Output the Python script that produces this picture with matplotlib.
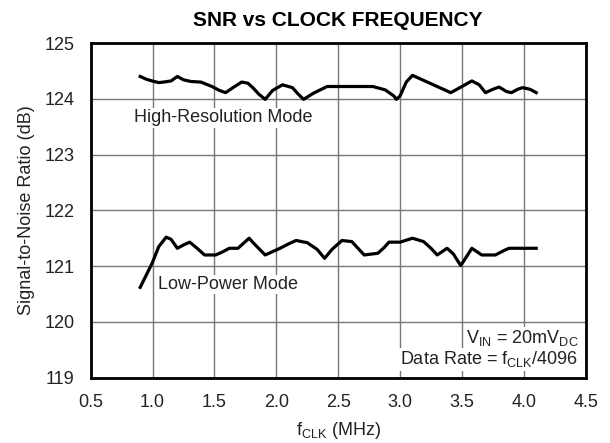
import numpy as np
import matplotlib
matplotlib.use("Agg")
import matplotlib.pyplot as plt

plt.rcParams['font.family'] = ['Liberation Sans', 'DejaVu Sans']
plt.rcParams['mathtext.fontset'] = 'custom'
plt.rcParams['mathtext.rm'] = 'Liberation Sans'
plt.rcParams['mathtext.it'] = 'Liberation Sans'

# High-Resolution Mode
hr_f = [0.90, 0.95, 0.996, 1.05, 1.09, 1.15, 1.20, 1.25, 1.31, 1.39, 1.48, 1.54, 1.59,
        1.65, 1.72, 1.77, 1.81, 1.86, 1.91, 1.97, 2.05, 2.13, 2.17, 2.22, 2.30, 2.41,
        2.78, 2.88, 2.95, 2.97, 3.00, 3.05, 3.10, 3.16, 3.25, 3.41, 3.50, 3.58, 3.64,
        3.69, 3.75, 3.80, 3.86, 3.90, 3.95, 3.99, 4.05, 4.10]
hr_snr = [124.40, 124.35, 124.32, 124.29, 124.30, 124.32, 124.40, 124.34, 124.31, 124.30,
          124.22, 124.15, 124.11, 124.20, 124.30, 124.28, 124.20, 124.08, 123.99, 124.15,
          124.25, 124.20, 124.10, 123.99, 124.10, 124.22, 124.22, 124.16, 124.05, 123.99,
          124.05, 124.30, 124.42, 124.36, 124.27, 124.11, 124.22, 124.32, 124.25, 124.11,
          124.17, 124.21, 124.13, 124.11, 124.17, 124.20, 124.17, 124.11]

# Low-Power Mode
lp_f = [0.90, 0.996, 1.05, 1.11, 1.15, 1.20, 1.25, 1.30, 1.36, 1.42, 1.51, 1.57, 1.62,
        1.69, 1.74, 1.78, 1.83, 1.91, 2.03, 2.10, 2.16, 2.25, 2.33, 2.39, 2.45, 2.53,
        2.61, 2.66, 2.71, 2.82, 2.87, 2.91, 3.00, 3.10, 3.19, 3.25, 3.30, 3.38, 3.43,
        3.49, 3.54, 3.58, 3.66, 3.77, 3.84, 3.88, 4.10]
lp_snr = [120.62, 121.05, 121.35, 121.52, 121.48, 121.32, 121.38, 121.43, 121.32, 121.20,
          121.20, 121.26, 121.32, 121.32, 121.42, 121.50, 121.38, 121.20, 121.32, 121.40,
          121.46, 121.42, 121.30, 121.14, 121.30, 121.46, 121.44, 121.32, 121.20, 121.23,
          121.33, 121.43, 121.43, 121.50, 121.44, 121.32, 121.20, 121.32, 121.22, 121.01,
          121.18, 121.32, 121.20, 121.20, 121.28, 121.32, 121.32]

xticks = [0.5, 1.0, 1.5, 2.0, 2.5, 3.0, 3.5, 4.0, 4.5]
yticks = [119, 120, 121, 122, 123, 124, 125]

fig = plt.figure(figsize=(6.1, 4.43), dpi=100)
ax = fig.add_axes([90.7/610, 1-377.7/443, 495/610, 334.7/443])

ax.plot(hr_f, hr_snr, color='black', lw=2.3, solid_joinstyle='round', zorder=3)
ax.plot(lp_f, lp_snr, color='black', lw=2.3, solid_joinstyle='round', zorder=3)

ax.set_xlim(0.5, 4.5)
ax.set_ylim(119, 125)
ax.set_xticks(xticks)
ax.set_xticklabels(["%.1f" % v for v in xticks])
ax.set_yticks(yticks)
ax.grid(True, color='#777777', lw=1.0, zorder=0)
ax.set_axisbelow(True)
ax.tick_params(axis='x', length=0, labelsize=13, pad=12, labelcolor='#222222')
ax.tick_params(axis='y', length=0, labelsize=13, pad=11.5, labelcolor='#222222')
for s in ax.spines.values():
    s.set_linewidth(2.0)

box = dict(facecolor='white', edgecolor='none', pad=1.0)
ax.text(0.85, 123.66, 'High-Resolution Mode', fontsize=13, va='center', ha='left',
        color='#222222', bbox=box, zorder=2)
ax.text(1.04, 120.67, 'Low-Power Mode', fontsize=13, va='center', ha='left',
        color='#222222', bbox=box, zorder=2)
ax.text(4.44, 119.71, r'V$_{\mathrm{IN}}$ = 20mV$_{\mathrm{DC}}$', fontsize=13,
        va='center', ha='right', color='#222222', bbox=box, zorder=2)
ax.text(4.44, 119.33, r'Data Rate = f$_{\mathrm{CLK}}$/4096', fontsize=13,
        va='center', ha='right', color='#222222', bbox=box, zorder=2)

ax.set_title('SNR vs CLOCK FREQUENCY', fontsize=15, fontweight='bold', pad=12)
ax.set_xlabel(r'f$_{\mathrm{CLK}}$ (MHz)', fontsize=13, color='#222222', labelpad=6)
ax.set_ylabel('Signal-to-Noise Ratio (dB)', fontsize=13, color='#222222', labelpad=7)

fig.savefig('out.png', dpi=100)
